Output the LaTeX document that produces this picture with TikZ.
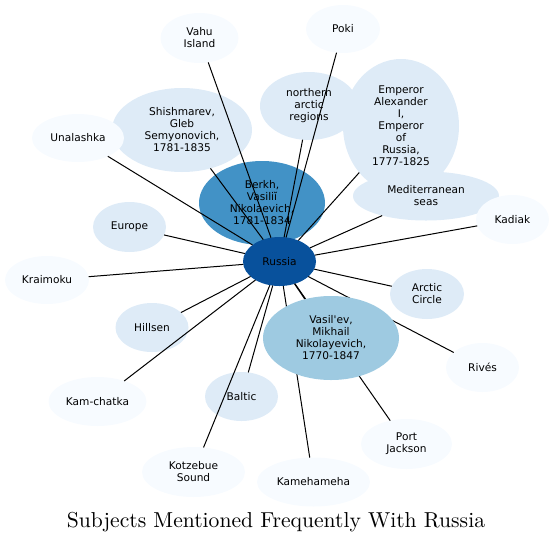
\documentclass[tikz,border=0pt]{standalone}
\usepackage{fontspec}
\newfontfamily\nodefont{DejaVu Sans}
\newfontfamily\titlefont{lmroman10-regular.otf}
\usetikzlibrary{shapes.geometric}
\pgfdeclarelayer{edgelayer}
\pgfdeclarelayer{toplayer}
\pgfsetlayers{main,edgelayer,toplayer}
\definecolor{cdark}{HTML}{08519C}
\definecolor{cmid}{HTML}{4292C6}
\definecolor{cpale}{HTML}{9ECAE1}
\definecolor{clight}{HTML}{DEEBF7}
\definecolor{cfaint}{HTML}{F7FBFF}
\tikzset{
  bub/.style={ellipse, inner sep=0pt, outer sep=0pt, align=center,
    font=\nodefont\fontsize{10.6}{12}\selectfont, text=black},
  lvl0/.style={bub, fill=cdark},
  lvl1/.style={bub, fill=cmid},
  lvl2/.style={bub, fill=cpale},
  lvl3/.style={bub, fill=clight},
  lvl4/.style={bub, fill=cfaint},
  sz/.style 2 args={minimum width=#1pt, minimum height=#2pt},
  link/.style={draw=black, line width=1pt}
}
\begin{document}
\begin{tikzpicture}[x=1pt,y=-1pt]
\useasboundingbox (0,0) rectangle (554,542);
% nodes
\node[lvl3, sz={140}{84}] (shish) at (182,130) {Shishmarev,\\Gleb\\Semyonovich,\\1781-1835};
\node[lvl4, sz={92}{48}] (unal) at (78,138) {Unalashka};
\node[lvl4, sz={78}{50}] (vahu) at (199.5,38) {Vahu\\Island};
\node[lvl4, sz={74}{48}] (poki) at (343,29) {Poki};
\node[lvl3, sz={98}{68}] (north) at (309,106) {northern\\arctic\\regions};
\node[lvl3, sz={116}{134}] (emp) at (401,126) {Emperor\\Alexander\\I,\\Emperor\\of\\Russia,\\1777-1825};
\node[lvl3, sz={146}{49}] (medi) at (426,196) {Mediterranean\\seas};
\node[lvl4, sz={73}{49}] (kadiak) at (512.5,219.5) {Kadiak};
\node[lvl1, sz={126}{84}] (berkh) at (262,203) {Berkh,\\Vasiliĭ\\Nikolaevich,\\1781-1834};
\node[lvl0, sz={73}{49}] (russia) at (279.5,261.5) {Russia};
\node[lvl3, sz={73}{50}] (europe) at (129.5,227) {Europe};
\node[lvl4, sz={84}{48}] (kraim) at (47,280) {Kraimoku};
\node[lvl3, sz={73}{49}] (hill) at (152,327.5) {Hillsen};
\node[lvl4, sz={98}{49}] (kamch) at (97.5,401.5) {Kam-chatka};
\node[lvl3, sz={73}{49}] (baltic) at (241.5,396.5) {Baltic};
\node[lvl4, sz={103}{50}] (kotz) at (193.5,472) {Kotzebue\\Sound};
\node[lvl4, sz={113}{49}] (kameh) at (313.5,482) {Kamehameha};
\node[lvl3, sz={74}{50}] (arctic) at (427,294) {Arctic\\Circle};
\node[lvl4, sz={73}{49}] (rives) at (482.5,367.5) {Rivés};
\node[lvl4, sz={91}{50}] (portj) at (406.5,444) {Port\\Jackson};
\begin{pgfonlayer}{toplayer}
\node[lvl2, sz={136}{84}] (vasil) at (331,338) {Vasil'ev,\\Mikhail\\Nikolayevich,\\1770-1847};
\end{pgfonlayer}
% edges
\begin{pgfonlayer}{edgelayer}
\foreach \t in {vahu,poki,shish,north,emp,medi,kadiak,unal,europe,kraim,hill,kamch,baltic,kotz,kameh,vasil,portj,rives,arctic}
  \draw[link] (russia) -- (\t);
\end{pgfonlayer}
% title
\node[anchor=base, font=\titlefont\fontsize{21.6}{24}\selectfont] (title) at (276,527) {Subjects Mentioned Frequently With Russia};
\end{tikzpicture}
\end{document}
